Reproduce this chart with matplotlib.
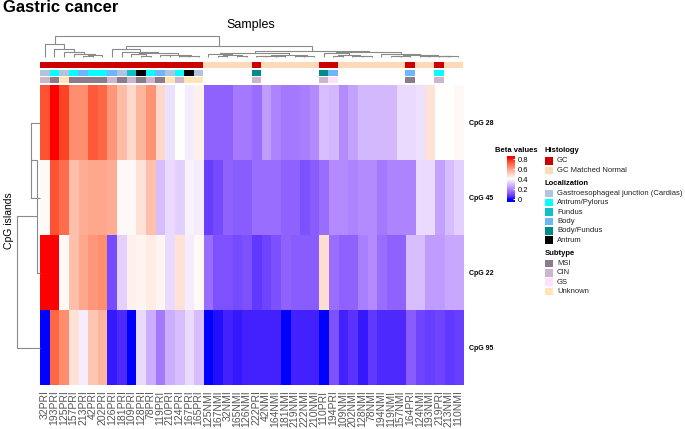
import numpy as np
import matplotlib
matplotlib.use("Agg")
import matplotlib.pyplot as plt
from matplotlib.colors import ListedColormap, Normalize

plt.rcParams["font.family"] = ["Liberation Sans", "DejaVu Sans"]

# ---------------- data ----------------
samples = ["32PRI", "193PRI", "125PRI", "157PRI", "213PRI", "42PRI", "202PRI", "126PRI",
           "181PRI", "109PRI", "128PRI", "78PRI", "119PRI", "210PRI", "124PRI", "167PRI",
           "165PRI", "125NMI", "167NMI", "32NMI", "165NMI", "126NMI", "222PRI", "42NMI",
           "164NMI", "181NMI", "219NMI", "222NMI", "210NMI", "110PRI", "194PRI", "109NMI",
           "202NMI", "128NMI", "78NMI", "194NMI", "119NMI", "157NMI", "164PRI", "124NMI",
           "193NMI", "219PRI", "213NMI", "110NMI"]
cpg_rows = ["CpG 28", "CpG 45", "CpG 22", "CpG 95"]

beta_cpg28 = [0.73, 0.85, 0.75, 0.63, 0.63, 0.72, 0.70, 0.61, 0.54, 0.48, 0.55, 0.62, 0.48,
              0.35, 0.40, 0.37, 0.43, 0.13, 0.13, 0.13, 0.17, 0.17, 0.15, 0.23, 0.19, 0.17,
              0.17, 0.18, 0.20, 0.29, 0.28, 0.20, 0.24, 0.28, 0.28, 0.28, 0.28, 0.34, 0.34,
              0.35, 0.46, 0.40, 0.40, 0.41]
beta_cpg45 = [0.41, 0.73, 0.69, 0.53, 0.57, 0.58, 0.58, 0.57, 0.41, 0.41, 0.46, 0.53, 0.29,
              0.34, 0.32, 0.38, 0.37, 0.07, 0.09, 0.13, 0.12, 0.12, 0.15, 0.15, 0.15, 0.13,
              0.13, 0.10, 0.12, 0.15, 0.20, 0.20, 0.19, 0.20, 0.20, 0.17, 0.19, 0.19, 0.19,
              0.34, 0.34, 0.24, 0.29, 0.32]
beta_cpg22 = [0.85, 0.80, 0.41, 0.53, 0.58, 0.61, 0.63, 0.09, 0.32, 0.43, 0.42, 0.44, 0.42,
              0.34, 0.46, 0.37, 0.41, 0.15, 0.10, 0.10, 0.09, 0.10, 0.06, 0.08, 0.10, 0.13,
              0.12, 0.12, 0.12, 0.47, 0.15, 0.13, 0.13, 0.18, 0.20, 0.15, 0.13, 0.13, 0.29,
              0.29, 0.23, 0.23, 0.25, 0.25]
beta_cpg95 = [0.00, 0.70, 0.63, 0.46, 0.37, 0.52, 0.55, 0.02, 0.04, 0.00, 0.34, 0.26, 0.17,
              0.26, 0.29, 0.34, 0.29, 0.00, 0.01, 0.03, 0.02, 0.03, 0.03, 0.03, 0.03, 0.00,
              0.03, 0.03, 0.03, 0.00, 0.10, 0.03, 0.05, 0.02, 0.06, 0.04, 0.04, 0.04, 0.12,
              0.08, 0.07, 0.08, 0.06, 0.07]

histology = ["GC"] * 17 + ["GC Matched Normal"] * 5 + ["GC"] + ["GC Matched Normal"] * 6 + \
            ["GC", "GC"] + ["GC Matched Normal"] * 7 + ["GC"] + ["GC Matched Normal"] * 2 + \
            ["GC"] + ["GC Matched Normal"] * 2
localization = ["Gastroesophageal junction (Cardias)", "Antrum/Pylorus",
                "Gastroesophageal junction (Cardias)", "Antrum/Pylorus", "Body",
                "Antrum/Pylorus", "Antrum/Pylorus", "Body", "Gastroesophageal junction (Cardias)",
                "Fundus", "Antrum", "Antrum/Pylorus", "Body",
                "Gastroesophageal junction (Cardias)", "Antrum/Pylorus", "Antrum",
                "Gastroesophageal junction (Cardias)"] + [None] * 5 + ["Body/Fundus"] + \
               [None] * 6 + ["Body/Fundus", "Body"] + [None] * 7 + ["Body"] + [None] * 2 + \
               ["Antrum/Pylorus"] + [None] * 2
subtype = ["CIN", "MSI", "Unknown", "MSI", "MSI", "MSI", "MSI", "CIN", "MSI", "CIN", "MSI",
           "CIN", "MSI", "Unknown", "CIN", "Unknown", "Unknown"] + [None] * 5 + ["CIN"] + \
          [None] * 6 + ["CIN", "GS"] + [None] * 7 + ["MSI"] + [None] * 2 + ["CIN"] + [None] * 2

histology_levels = ["GC", "GC Matched Normal"]
histology_colors = ["#CC0000", "#FFDAB9"]
localization_levels = ["Gastroesophageal junction (Cardias)", "Antrum/Pylorus", "Fundus",
                       "Body", "Body/Fundus", "Antrum"]
localization_colors = ["#B0C4DE", "#00FFFF", "#10C0C8", "#6CB6FF", "#008B8B", "#000000"]
subtype_levels = ["MSI", "CIN", "GS", "Unknown"]
subtype_colors = ["#8B7B8B", "#CDB5CD", "#FFE1FF", "#FFE4B5"]

# column dendrogram (nested merges: left, right, height)
col_tree = ((0, (1, (2, (3, ((4, 5, 0.04), 6, 0.08), 0.13), 0.25), 0.36), 0.60),
            ((7, (8, ((9, (10, 11, 0.06), 0.12),
                      ((12, 13, 0.08), ((14, 15, 0.03), 16, 0.06), 0.10), 0.18), 0.25), 0.36),
             (((17, ((18, 19, 0.03), (20, 21, 0.04), 0.08), 0.14),
               (((22, 23, 0.03), (24, 25, 0.04), 0.07), ((26, 27, 0.03), 28, 0.05), 0.10), 0.20),
              ((29, ((30, 31, 0.05), (32, (33, 34, 0.03), 0.06), 0.08), 0.17),
               (35, (((36, 37, 0.04), 38, 0.06),
                     ((39, 40, 0.04), ((41, 42, 0.03), 43, 0.05), 0.07), 0.10), 0.13), 0.22), 0.30),
             0.52),
            1.0)
# row dendrogram (centroid linkage, with an inversion)
row_tree = (((0, 1, 0.41), 2, 0.12), 3, 1.0)

# ---------------- colour mapping (Lab interpolation) ----------------
M_RGB2XYZ = np.array([[0.4124, 0.3576, 0.1805], [0.2126, 0.7152, 0.0722], [0.0193, 0.1192, 0.9505]])
WHITE = np.array([0.95047, 1.0, 1.08883])

def srgb_to_lab(rgb):
    rgb = np.asarray(rgb, float)
    lin = np.where(rgb <= 0.04045, rgb / 12.92, ((rgb + 0.055) / 1.055) ** 2.4)
    xyz = lin @ M_RGB2XYZ.T / WHITE
    f = np.where(xyz > 0.008856, np.cbrt(xyz), 7.787 * xyz + 16 / 116)
    return np.stack([116 * f[..., 1] - 16, 500 * (f[..., 0] - f[..., 1]),
                     200 * (f[..., 1] - f[..., 2])], -1)

def lab_to_srgb(lab):
    L, a, b = lab[..., 0], lab[..., 1], lab[..., 2]
    fy = (L + 16) / 116
    f = np.stack([fy + a / 500, fy, fy - b / 200], -1)
    xyz = np.where(f ** 3 > 0.008856, f ** 3, (f - 16 / 116) / 7.787) * WHITE
    lin = np.clip(xyz @ np.linalg.inv(M_RGB2XYZ).T, 0, 1)
    rgb = np.where(lin <= 0.0031308, 12.92 * lin, 1.055 * lin ** (1 / 2.4) - 0.055)
    return np.clip(rgb, 0, 1)

breaks = [0.0, 0.4, 0.8]
anchors = srgb_to_lab([[0, 0, 1], [1, 1, 1], [1, 0, 0]])
grid = np.linspace(breaks[0], breaks[-1], 256)
lab_grid = np.stack([np.interp(grid, breaks, anchors[:, k]) for k in range(3)], -1)
cmap = ListedColormap(lab_to_srgb(lab_grid))
norm = Normalize(vmin=breaks[0], vmax=breaks[-1], clip=True)

# ---------------- figure ----------------
W, H = 685, 429
fig = plt.figure(figsize=(W / 100, H / 100), dpi=100)

def px_axes(x0, y0, x1, y1):
    return fig.add_axes([x0 / W, 1 - y1 / H, (x1 - x0) / W, (y1 - y0) / H])

n = len(samples)
mat = np.array([beta_cpg28, beta_cpg45, beta_cpg22, beta_cpg95])

hm_l, hm_r, hm_t, hm_b = 40, 463, 85, 385
ax = px_axes(hm_l, hm_t, hm_r, hm_b)
ax.imshow(mat, cmap=cmap, norm=norm, aspect="auto", interpolation="nearest")
ax.set_xticks(range(n))
ax.set_xticklabels(samples, rotation=90, fontsize=7.5, color="#555555")
ax.set_yticks(range(len(cpg_rows)))
ax.set_yticklabels(cpg_rows, fontsize=5, fontweight="bold")
ax.yaxis.tick_right()
ax.tick_params(length=0, pad=4)
ax.tick_params(axis="x", pad=4)
for s in ax.spines.values():
    s.set_visible(False)

# annotations
def annot(y0, y1, values, levels, colors):
    a = px_axes(hm_l, y0, hm_r, y1)
    cols = [colors[levels.index(v)] if v is not None else "white" for v in values]
    a.bar(np.arange(n), 1, width=1.0, color=cols, linewidth=0)
    a.set_xlim(-0.5, n - 0.5)
    a.set_ylim(0, 1)
    a.axis("off")

annot(61.5, 67.5, histology, histology_levels, histology_colors)
annot(70, 75.5, localization, localization_levels, localization_colors)
annot(77, 82.5, subtype, subtype_levels, subtype_colors)

# dendrograms
def collect(node, segs):
    if isinstance(node, int):
        return float(node), 0.0
    l, r, h = node
    xl, hl = collect(l, segs)
    xr, hr = collect(r, segs)
    segs.append(([xl, xl, xr, xr], [hl, h, h, hr]))
    return (xl + xr) / 2, h

dcol = px_axes(hm_l, 35.7, hm_r, 57)
segs = []
collect(col_tree, segs)
for xs, hs in segs:
    dcol.plot(xs, hs, color="#8a8a8a", lw=0.8, clip_on=False, solid_capstyle="butt")
dcol.set_xlim(-0.5, n - 0.5)
dcol.set_ylim(0, 1)
dcol.axis("off")

drow = px_axes(17.3, hm_t, hm_l, hm_b)
segs = []
collect(row_tree, segs)
for xs, hs in segs:
    drow.plot(hs, xs, color="#8a8a8a", lw=0.8, clip_on=False, solid_capstyle="butt")
drow.set_ylim(len(cpg_rows) - 0.5, -0.5)
drow.set_xlim(1, 0)
drow.axis("off")

# titles
fig.text(3 / W, 1 - 8 / H, "Gastric cancer", fontsize=12, fontweight="bold", va="center", ha="left")
fig.text(251 / W, 1 - 25 / H, "Samples", fontsize=9, va="center", ha="center")
fig.text(9 / W, 1 - 221 / H, "CpG islands", fontsize=7.5, va="center", ha="center", rotation=90)

# colour bar legend
cb = px_axes(507, 156, 515, 202)
vals = np.linspace(-0.06, 0.87, 200)
cb.imshow(vals[:, None], cmap=cmap, norm=norm, aspect="auto", origin="lower",
          extent=[0, 1, vals[0], vals[-1]])
cb.set_xticks([])
cb.yaxis.tick_right()
cb.set_yticks([0, 0.2, 0.4, 0.6, 0.8])
cb.set_yticklabels(["0", "0.2", "0.4", "0.6", "0.8"], fontsize=5.5)
cb.tick_params(axis="y", length=1.5, direction="in", color="white", pad=2)
for s in cb.spines.values():
    s.set_visible(False)
fig.text(495 / W, 1 - 151 / H, "Beta values", fontsize=5.5, fontweight="bold", va="center")

# discrete legends
ov = fig.add_axes([0, 0, 1, 1], facecolor="none")
ov.set_xlim(0, W)
ov.set_ylim(H, 0)
ov.axis("off")

def legend_block(y_title, title, levels, colors):
    ov.text(545, y_title, title, fontsize=5.5, fontweight="bold", va="center")
    for i, (lv, c) in enumerate(zip(levels, colors)):
        yc = y_title + 10 + 9.35 * i
        ov.add_patch(plt.Rectangle((545.5, yc - 3.8), 7.8, 7.6, facecolor=c, edgecolor="none"))
        ov.text(557, yc, lv, fontsize=5.5, va="center", color="#222222")

legend_block(151, "Histology", histology_levels, histology_colors)
legend_block(183.3, "Localization", localization_levels, localization_colors)
legend_block(253.5, "Subtype", subtype_levels, subtype_colors)

fig.savefig("out.png", dpi=100)
